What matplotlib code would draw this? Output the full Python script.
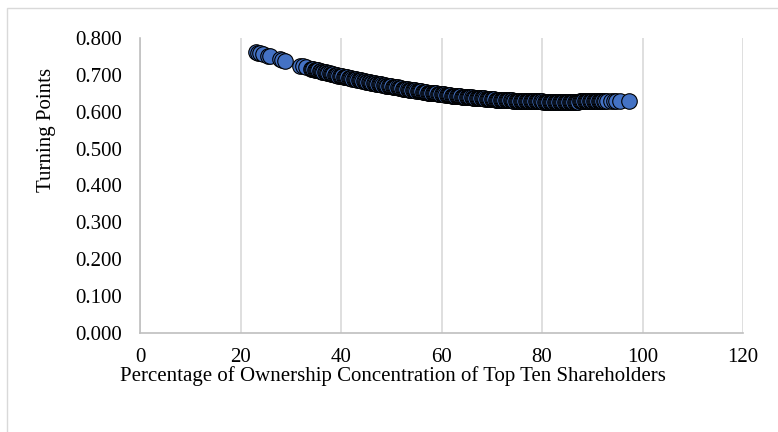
import matplotlib
matplotlib.use("Agg")
import matplotlib.pyplot as plt
from matplotlib.patches import Rectangle

plt.rcParams["font.family"] = ["Liberation Serif", "DejaVu Serif"]

# ownership concentration of top ten shareholders (%) and the turning point
concentration = [
    23.1, 23.5, 23.9, 24.4, 25.5, 25.9, 27.8, 28.3, 28.8, 31.9,
    32.5, 33.0, 34.0, 34.5, 35.0, 35.5, 36.0, 36.5, 37.0, 37.5,
    38.0, 38.5, 39.0, 39.5, 40.0, 40.5, 41.0, 41.5, 42.0, 42.5,
    43.0, 43.5, 44.0, 44.5, 45.0, 45.5, 46.0, 46.5, 47.0, 47.5,
    48.0, 48.5, 49.0, 49.5, 50.0, 50.5, 51.0, 51.5, 52.0, 52.5,
    53.0, 53.5, 54.0, 54.5, 55.0, 55.5, 56.0, 56.5, 57.0, 57.5,
    58.0, 58.5, 59.0, 59.5, 60.0, 60.5, 61.0, 61.5, 62.0, 62.5,
    63.0, 63.5, 64.0, 64.5, 65.0, 65.5, 66.0, 66.5, 67.0, 67.5,
    68.0, 68.5, 69.0, 69.5, 70.0, 70.5, 71.0, 71.5, 72.0, 72.5,
    73.0, 73.5, 74.0, 74.5, 75.0, 75.5, 76.0, 76.5, 77.0, 77.5,
    78.0, 78.5, 79.0, 79.5, 80.0, 80.5, 81.0, 81.5, 82.0, 82.5,
    83.0, 83.5, 84.0, 84.5, 85.0, 85.5, 86.0, 86.5, 87.0, 87.5,
    88.0, 88.5, 89.0, 89.5, 90.0, 90.5, 91.0, 91.5, 92.0, 92.5,
    93.0, 93.7, 94.3, 94.8, 95.6, 97.3,
]
turning_points = [
    0.762, 0.760, 0.758, 0.756, 0.751, 0.750, 0.742, 0.740, 0.738, 0.725,
    0.723, 0.721, 0.717, 0.715, 0.713, 0.712, 0.710, 0.708, 0.707, 0.705,
    0.703, 0.702, 0.700, 0.698, 0.697, 0.695, 0.694, 0.692, 0.691, 0.689,
    0.688, 0.686, 0.685, 0.683, 0.682, 0.680, 0.679, 0.678, 0.676, 0.675,
    0.674, 0.672, 0.671, 0.670, 0.669, 0.667, 0.666, 0.665, 0.664, 0.663,
    0.662, 0.660, 0.659, 0.658, 0.657, 0.656, 0.655, 0.654, 0.653, 0.652,
    0.651, 0.650, 0.650, 0.649, 0.648, 0.647, 0.646, 0.645, 0.644, 0.644,
    0.643, 0.642, 0.641, 0.641, 0.640, 0.639, 0.639, 0.638, 0.637, 0.637,
    0.636, 0.636, 0.635, 0.635, 0.634, 0.634, 0.633, 0.633, 0.632, 0.632,
    0.631, 0.631, 0.631, 0.630, 0.630, 0.630, 0.629, 0.629, 0.629, 0.629,
    0.628, 0.628, 0.628, 0.628, 0.628, 0.627, 0.627, 0.627, 0.627, 0.627,
    0.627, 0.627, 0.627, 0.627, 0.627, 0.627, 0.627, 0.627, 0.627, 0.628,
    0.628, 0.628, 0.628, 0.628, 0.628, 0.628, 0.628, 0.628, 0.629, 0.629,
    0.629, 0.629, 0.629, 0.629, 0.630, 0.630,
]
# second batch of firms in the dense middle range
concentration_mid = [
    34.25, 34.75, 35.25, 35.75, 36.25, 36.75, 37.25, 37.75, 38.25, 38.75,
    39.25, 39.75, 40.25, 40.75, 41.25, 41.75, 42.25, 42.75, 43.25, 43.75,
    44.25, 44.75, 45.25, 45.75, 46.25, 46.75, 47.25, 47.75, 48.25, 48.75,
    49.25, 49.75, 50.25, 50.75, 51.25, 51.75, 52.25, 52.75, 53.25, 53.75,
    54.25, 54.75, 55.25, 55.75, 56.25, 56.75, 57.25, 57.75, 58.25, 58.75,
    59.25, 59.75, 60.25, 60.75, 61.25, 61.75, 62.25, 62.75, 63.25, 63.75,
    64.25, 64.75, 65.25, 65.75, 66.25, 66.75, 67.25, 67.75, 68.25, 68.75,
    69.25, 69.75, 70.25, 70.75, 71.25, 71.75, 72.25, 72.75, 73.25, 73.75,
    74.25, 74.75, 75.25, 75.75, 76.25, 76.75, 77.25, 77.75, 78.25, 78.75,
    79.25, 79.75, 80.25, 80.75, 81.25, 81.75, 82.25, 82.75, 83.25, 83.75,
    84.25, 84.75, 85.25, 85.75, 86.25, 86.75, 87.25, 87.75, 88.25, 88.75,
    89.25, 89.75, 90.25, 90.75, 91.25, 91.75, 92.25,
]
turning_points_mid = [
    0.716, 0.714, 0.713, 0.711, 0.709, 0.708, 0.706, 0.704, 0.703, 0.701,
    0.699, 0.698, 0.696, 0.695, 0.693, 0.692, 0.690, 0.689, 0.687, 0.686,
    0.684, 0.683, 0.681, 0.680, 0.678, 0.677, 0.676, 0.674, 0.673, 0.672,
    0.670, 0.669, 0.668, 0.667, 0.666, 0.664, 0.663, 0.662, 0.661, 0.660,
    0.659, 0.658, 0.656, 0.655, 0.654, 0.653, 0.652, 0.651, 0.651, 0.650,
    0.649, 0.648, 0.647, 0.646, 0.646, 0.645, 0.644, 0.643, 0.643, 0.642,
    0.641, 0.640, 0.640, 0.639, 0.638, 0.638, 0.637, 0.636, 0.636, 0.635,
    0.635, 0.634, 0.634, 0.633, 0.633, 0.632, 0.632, 0.631, 0.631, 0.631,
    0.630, 0.630, 0.630, 0.629, 0.629, 0.629, 0.629, 0.628, 0.628, 0.628,
    0.628, 0.628, 0.627, 0.627, 0.627, 0.627, 0.627, 0.627, 0.627, 0.627,
    0.627, 0.627, 0.627, 0.627, 0.627, 0.627, 0.627, 0.628, 0.628, 0.628,
    0.628, 0.628, 0.628, 0.628, 0.628, 0.629, 0.629,
]
x_ticks = [0, 20, 40, 60, 80, 100, 120]
y_ticks = [0.0, 0.1, 0.2, 0.3, 0.4, 0.5, 0.6, 0.7, 0.8]

# draw left to right so later markers sit on top
points = sorted(zip(concentration + concentration_mid,
                    turning_points + turning_points_mid))
xs = [p[0] for p in points]
ys = [p[1] for p in points]

fig = plt.figure(figsize=(7.78, 4.32), dpi=100)
ax = fig.add_axes([140 / 778, 1 - 333 / 432, 603 / 778, 295 / 432])

# chart border
fig.patches.append(Rectangle((7 / 778, -0.1), 1.2, 1 - 8 / 432 + 0.1,
                             transform=fig.transFigure, fill=False,
                             edgecolor="#d9d9d9", linewidth=1))

ax.scatter(xs, ys, s=125, color="#4472c4", edgecolors="black",
           linewidths=0.8, zorder=3, clip_on=False)

ax.set_xlim(0, 120)
ax.set_ylim(0, 0.8)
ax.set_xticks(x_ticks)
ax.set_yticks(y_ticks)
ax.set_yticklabels([f"{v:.3f}" for v in y_ticks])
ax.grid(axis="x", color="#d9d9d9", linewidth=1.2)
ax.set_axisbelow(True)
for side in ["top", "right"]:
    ax.spines[side].set_visible(False)
for side in ["left", "bottom"]:
    ax.spines[side].set_color("#bfbfbf")
    ax.spines[side].set_linewidth(1.2)
ax.tick_params(length=0, labelsize=15)
ax.tick_params(axis="x", pad=11)
ax.tick_params(axis="y", pad=13)

fig.text(393 / 778, 1 - 381 / 432, "Percentage of Ownership Concentration of Top Ten Shareholders",
         ha="center", va="baseline", fontsize=15)
fig.text(46 / 778, 1 - 130 / 432, "Turning Points", rotation=90,
         ha="center", va="center", fontsize=15)

fig.savefig("out.png")
